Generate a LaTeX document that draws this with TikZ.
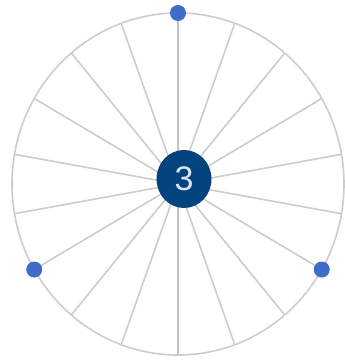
\documentclass[tikz,border=0pt]{standalone}
\usepackage{fontspec}
\setmainfont{Liberation Sans}
\usetikzlibrary{calc,shapes.geometric}
\definecolor{spokegray}{HTML}{CCCCCC}
\definecolor{hubblue}{HTML}{03447F}
\definecolor{dotblue}{HTML}{3F6CCB}
\definecolor{digit}{HTML}{DCE6F2}
\begin{document}
\begin{tikzpicture}[x=1pt,y=-1pt,
  spoke/.style={draw=spokegray,line width=1.6pt},
  axis/.style={draw=spokegray!95!black,line width=2.2pt},
  rim/.style={draw=spokegray,line width=1.6pt},
  hub/.style={ellipse,fill=hubblue,minimum width=55pt,minimum height=58pt,inner sep=0pt,text=digit,font=\fontsize{34}{34}\selectfont},
  rimdot/.style={circle,fill=dotblue,minimum size=16pt,inner sep=0pt}]
\useasboundingbox (0,0) rectangle (345,360);
\coordinate (c) at (178,184);
\draw[rim] (c) ellipse [x radius=166, y radius=171];
\foreach \k in {0,...,17}{
  \pgfmathsetmacro{\a}{90+20*\k}
  \coordinate (p\k) at ($(c)+({166*cos(\a)},{-171*sin(\a)})$);
  \draw[spoke] (c) -- (p\k);
}
\draw[axis] (p0) -- (p9);
\node[hub] (h) at (184,179) {3};
\node[rimdot] (d1) at (p0) {};
\node[rimdot] (d2) at (p6) {};
\node[rimdot] (d3) at (p12) {};
\end{tikzpicture}
\end{document}
